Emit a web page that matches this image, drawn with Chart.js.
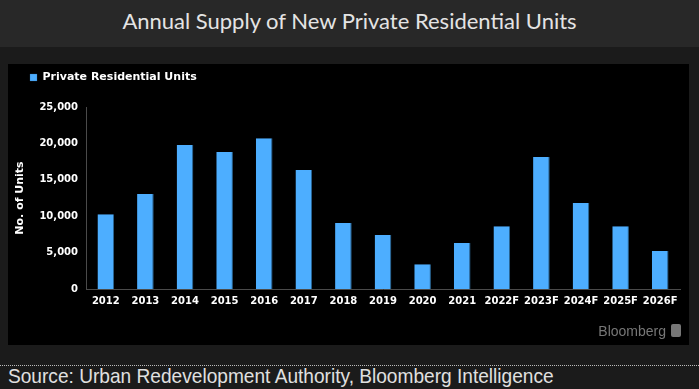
<!DOCTYPE html>
<html>
<head>
<meta charset="utf-8">
<script src="https://cdn.jsdelivr.net/npm/chart.js@4"></script>
<style>
  html, body { margin: 0; padding: 0; }
  body { width: 699px; height: 389px; background: #1b1b1b; position: relative; overflow: hidden; }
  #header { position: absolute; left: 0; top: 0; width: 699px; height: 47px; background: #282828; }
  #title { position: absolute; left: 0; top: 7px; width: 699px; text-align: center;
    font-family: Lato, "Open Sans", sans-serif; font-size: 22px; color: #e4e4e4; }
  #panel { position: absolute; left: 8px; top: 64px; width: 681px; height: 281px; background: #000; }
  #chart { position: absolute; left: 0; top: 0; }
  #brand { position: absolute; right: 8px; bottom: 6px; font-family: "Liberation Sans", sans-serif;
    font-size: 14px; color: #777; }
  #brand span { display: inline-block; width: 10px; height: 13px; background: #777; border-radius: 2px;
    margin-left: 5px; vertical-align: -1px; }
  #rule { position: absolute; left: 0; top: 365px; width: 699px; border-top: 1px dotted #bbb; }
  #source { position: absolute; left: 8px; top: 364px; white-space: nowrap;
    font-family: "Liberation Sans", sans-serif; font-size: 21px; color: #e0e0e0;
    transform: scaleX(0.91); transform-origin: left top; }
</style>
</head>
<body>
<div id="header"><div id="title">Annual Supply of New Private Residential Units</div></div>
<div id="panel">
  <canvas id="chart" width="681" height="281"></canvas>
  <div id="brand">Bloomberg<span></span></div>
</div>
<div id="rule"></div>
<div id="source">Source: Urban Redevelopment Authority, Bloomberg Intelligence</div>
<script>
const years = ['2012', '2013', '2014', '2015', '2016', '2017', '2018', '2019', '2020', '2021',
  '2022F', '2023F', '2024F', '2025F', '2026F']
const units = [10260, 13050, 19780, 18820, 20700, 16350, 9070, 7420, 3390, 6320,
  8610, 18130, 11810, 8610, 5220]
const seriesName = 'Private Residential Units'
const yTicks = [0, 5000, 10000, 15000, 20000, 25000]

const tickFont = { family: 'DejaVu Sans', size: 10, weight: 'bold' }

// legend sits a bit right of the chart's left edge and has a fixed height
const legendPlace = {
  id: 'legendPlace',
  beforeInit(chart) {
    const fit = chart.legend.fit
    chart.legend.fit = function () {
      fit.bind(chart.legend)()
      this.height = 43
    }
  },
  afterLayout(chart) {
    chart.legend.left += 14
    chart.legend.right += 14
  }
}

function initChart() {
  var ctx = document.getElementById('chart').getContext('2d')
  new Chart(ctx, {
    type: 'bar',
    data: {
      labels: years,
      datasets: [{
        label: seriesName,
        data: units,
        backgroundColor: '#4daeff',
        borderColor: '#2a6796',
        borderWidth: { right: 1, top: 0, left: 0, bottom: 0 },
        borderSkipped: false,
        barPercentage: 0.42,
        categoryPercentage: 1.0
      }]
    },
    options: {
      responsive: false,
      animation: false,
      layout: { padding: { left: 0, right: 9, top: 0, bottom: 0 } },
      plugins: {
        legend: {
          align: 'start',
          labels: {
            color: '#ffffff',
            font: { family: 'DejaVu Sans', size: 11, weight: 'bold' },
            boxWidth: 7,
            boxHeight: 7,
            padding: 8
          }
        },
        tooltip: { enabled: false }
      },
      scales: {
        x: {
          grid: { display: false, drawTicks: false },
          border: { display: true, color: '#4a4a4a', width: 1 },
          ticks: { color: '#ffffff', font: tickFont, padding: 6, maxRotation: 0, autoSkip: false },
          afterFit(scale) { scale.height = 56 }
        },
        y: {
          min: 0,
          max: 25000,
          afterBuildTicks(scale) { scale.ticks = yTicks.map(v => ({ value: v })) },
          grid: { display: false, drawTicks: false },
          border: { display: true, color: '#4a4a4a', width: 1 },
          ticks: {
            color: '#ffffff',
            font: tickFont,
            padding: 8,
            callback: v => v.toLocaleString('en-US')
          },
          title: {
            display: true,
            text: 'No. of Units',
            color: '#ffffff',
            font: { family: 'DejaVu Sans', size: 11, weight: 'bold' },
            padding: { top: 6, bottom: 0 }
          },
          afterFit(scale) { scale.width = 78 }
        }
      }
    },
    plugins: [legendPlace]
  })
}

initChart()
</script>
</body>
</html>
